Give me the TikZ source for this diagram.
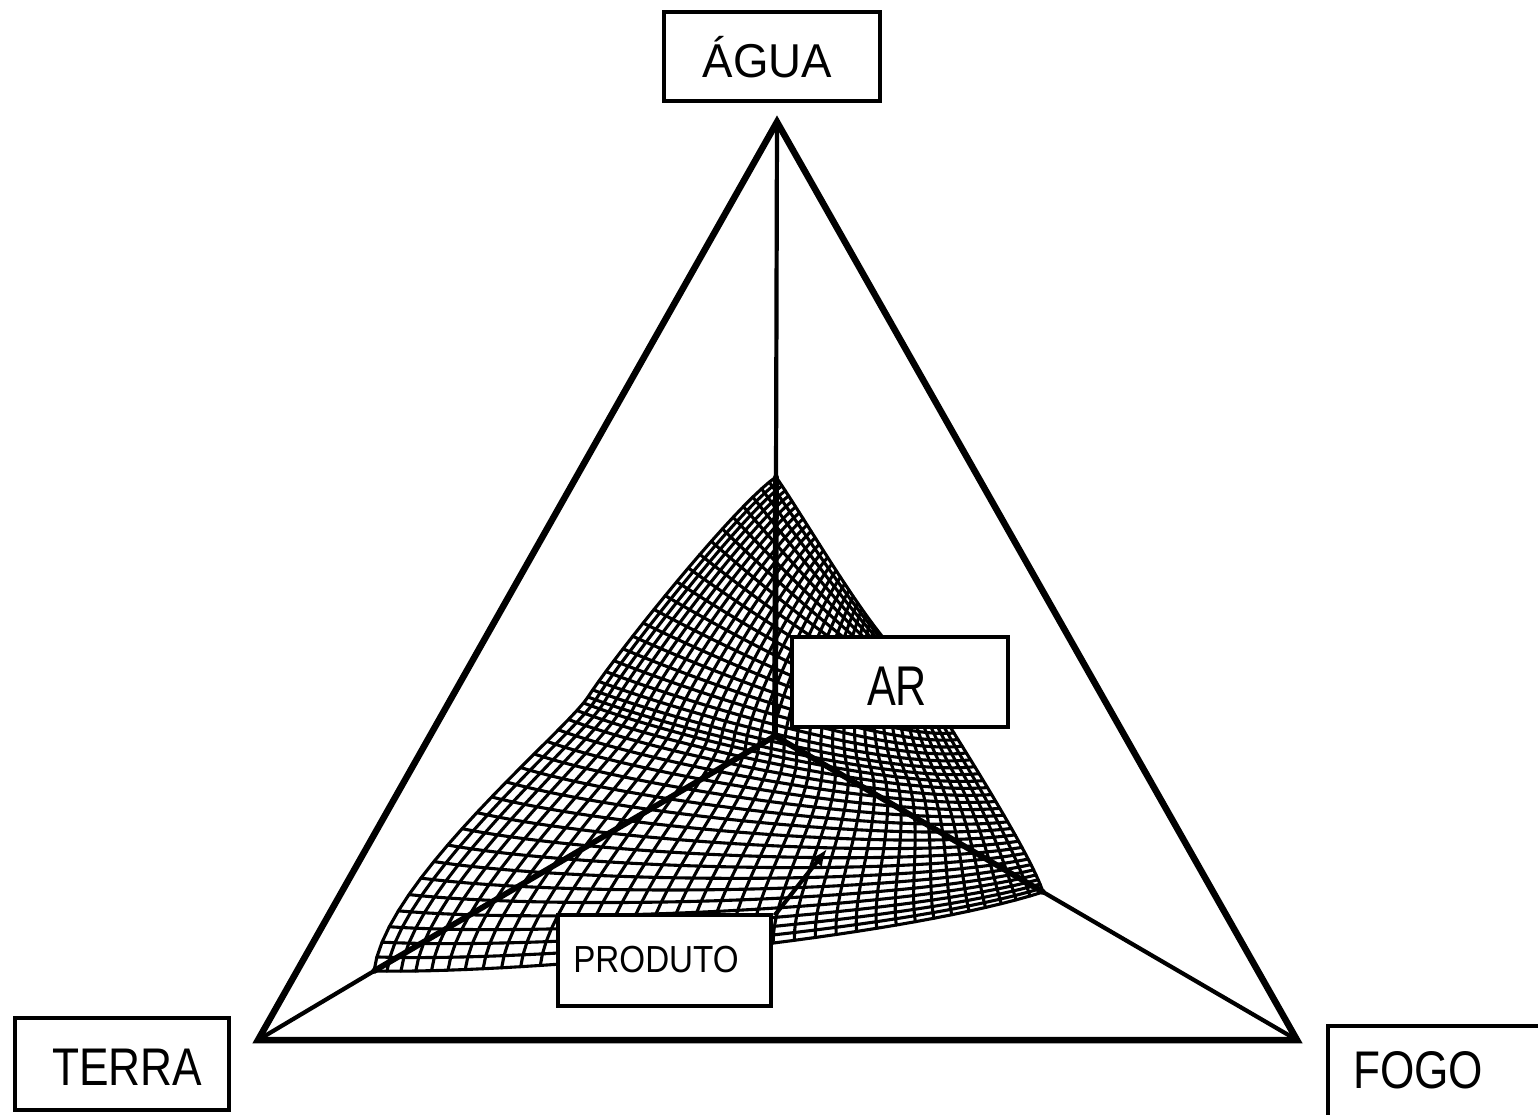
\documentclass[tikz,border=0pt]{standalone}
\usepackage{fontspec}
\setmainfont{Liberation Sans}
\usepackage{graphicx}
\usetikzlibrary{arrows.meta}
\newcommand{\lbltext}[3]{\fontsize{#1}{#1}\selectfont\scalebox{#2}[1]{#3}}
\newcommand{\cubexpr}[5]{((1-#1)^3*#2+3*(1-#1)^2*#1*#3+3*(1-#1)*#1^2*#4+#1^3*#5)}
\newcommand{\NA}{36}
\newcommand{\NB}{40}
\tikzset{
  lbl/.style={draw=black, line width=3.3pt, fill=white, inner sep=0pt, text depth=0pt},
  tri/.style={line width=6.5pt, line join=miter, miter limit=20},
  axisout/.style={line width=4.2pt},
  axisin/.style={line width=5.8pt, line cap=round},
  mesh/.style={line width=3.1pt, line join=round, line cap=round},
}
\begin{document}
\begin{tikzpicture}[x=1pt,y=-1pt]
\useasboundingbox[fill=white] (0,0) rectangle (1538,1114);
% ---- edge curves of the mesh patch
\foreach \i in {0,...,\NA}{%
  \edef\mS{\fpeval{\i/\NA}}%
  \expandafter\xdef\csname Bx\i\endcsname{\fpeval{\cubexpr{\mS}{374}{524}{893}{1043}}}%
  \expandafter\xdef\csname By\i\endcsname{\fpeval{\cubexpr{\mS}{971}{974}{940}{892}}}%
  \expandafter\xdef\csname Qx\i\endcsname{\fpeval{\cubexpr{\mS}{776}{810}{880}{912}}}%
  \expandafter\xdef\csname Qy\i\endcsname{\fpeval{\cubexpr{\mS}{477}{526}{650}{665}}}%
}
\foreach \j in {0,...,\NB}{%
  \edef\mT{\fpeval{\j/\NB}}%
  \expandafter\xdef\csname Lx\j\endcsname{\fpeval{\mT<0.5 ? \cubexpr{(2*\mT)}{374}{385}{566}{588} : \cubexpr{(2*\mT-1)}{588}{615}{735}{776}}}%
  \expandafter\xdef\csname Ly\j\endcsname{\fpeval{\mT<0.5 ? \cubexpr{(2*\mT)}{971}{880}{731}{697} : \cubexpr{(2*\mT-1)}{697}{655}{505}{477}}}%
  \expandafter\xdef\csname Ex\j\endcsname{\fpeval{\cubexpr{\mT}{1043}{1027}{932}{912}}}%
  \expandafter\xdef\csname Ey\j\endcsname{\fpeval{\cubexpr{\mT}{892}{844}{700}{665}}}%
}
% ---- grid points (Coons patch)
\foreach \i in {0,...,\NA}{%
  \edef\mS{\fpeval{\i/\NA}}%
  \foreach \j in {0,...,\NB}{%
    \edef\mT{\fpeval{\j/\NB}}%
    \expandafter\xdef\csname Px\i-\j\endcsname{\fpeval{(1-\mT)*\csname Bx\i\endcsname+\mT*\csname Qx\i\endcsname+(1-\mS)*\csname Lx\j\endcsname+\mS*\csname Ex\j\endcsname-(1-\mS)*(1-\mT)*374-\mS*(1-\mT)*1043-(1-\mS)*\mT*776-\mS*\mT*912}}%
    \expandafter\xdef\csname Py\i-\j\endcsname{\fpeval{(1-\mT)*\csname By\i\endcsname+\mT*\csname Qy\i\endcsname+(1-\mS)*\csname Ly\j\endcsname+\mS*\csname Ey\j\endcsname-(1-\mS)*(1-\mT)*971-\mS*(1-\mT)*892-(1-\mS)*\mT*477-\mS*\mT*665}}%
  }%
}
% ---- mesh lines rising from the lower edge
\foreach \i in {0,...,\NA}{%
  \gdef\mypath{}%
  \foreach \j in {0,...,\NB}{%
    \xdef\mypath{\mypath\ifnum\j>0 --\fi(\csname Px\i-\j\endcsname,\csname Py\i-\j\endcsname)}%
  }%
  \edef\mytmp{\noexpand\draw[mesh] \mypath;}\mytmp
}
% ---- mesh lines from the left edge to the right edge
\foreach \j in {0,...,\NB}{%
  \gdef\mypath{}%
  \foreach \i in {0,...,\NA}{%
    \xdef\mypath{\mypath\ifnum\i>0 --\fi(\csname Px\i-\j\endcsname,\csname Py\i-\j\endcsname)}%
  }%
  \edef\mytmp{\noexpand\draw[mesh] \mypath;}\mytmp
}
% vertices
\coordinate (va) at (777,122);
\coordinate (vl) at (258,1040);
\coordinate (vr) at (1297,1040);
\coordinate (ctr) at (775,736);
\coordinate (mt) at (776,477);
\coordinate (ml) at (374,971);
\coordinate (mr) at (1043,892);
% triangle
\draw[tri] (va) -- (vl) -- (vr) -- cycle;
% axes
\draw[axisout] (va) -- (mt);
\draw[axisin] (mt) -- (ctr);
\draw[axisin] (ctr) -- (ml);
\draw[axisout] (ml) -- (vl);
\draw[axisin] (ctr) -- (mr);
\draw[axisout] (mr) -- (vr);
% labels
\node[lbl, minimum width=216pt, minimum height=89pt, text height=41pt] (agua) at (772,56.5) {\lbltext{47.5}{0.96}{ÁGUA}\hspace*{9pt}};
\node[lbl, minimum width=214pt, minimum height=92pt, text height=42pt] (terra) at (122,1064) {\hspace*{10pt}\lbltext{53}{0.835}{TERRA}};
\node[lbl, minimum width=212pt, minimum height=94pt, text height=30pt] (fogo) at (1434,1073) {\lbltext{53}{0.833}{FOGO}\hspace*{32pt}};
\node[lbl, minimum width=216pt, minimum height=90pt, text height=46pt] (ar) at (900,682) {\lbltext{56}{0.77}{AR}\hspace*{6pt}};
\node[lbl, minimum width=213pt, minimum height=91pt, text height=23pt] (produto) at (664.5,960.5) {\lbltext{37.7}{0.88}{PRODUTO}\hspace*{17pt}};
% arrow from PRODUTO
\coordinate (ptip) at (827,849);
\draw[line width=4.2pt, -{Latex[length=17pt,width=14pt]}] ([xshift=2pt,yshift=-2pt]produto.north east) -- (ptip);
\end{tikzpicture}
\end{document}
